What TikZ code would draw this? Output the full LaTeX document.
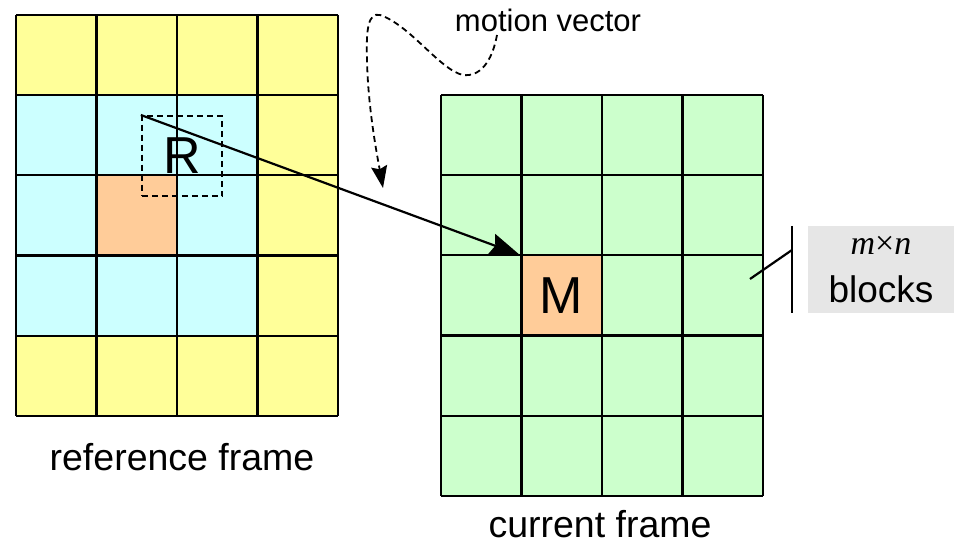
\documentclass[tikz,border=0pt]{standalone}
\usepackage{fontspec}
\setmainfont{Liberation Sans}
\newfontfamily\timesfont{Liberation Serif}
\usetikzlibrary{arrows.meta}
\definecolor{refyellow}{HTML}{FFFF99}
\definecolor{refcyan}{HTML}{CCFFFF}
\definecolor{blkorange}{HTML}{FFCC99}
\definecolor{curgreen}{HTML}{CCFFCC}
\definecolor{boxgray}{HTML}{E6E6E6}
\tikzset{
  cell/.style={minimum width=80.5pt,minimum height=80.2pt,inner sep=0pt},
  big/.style={font=\fontsize{52}{56}\selectfont},
  lbl/.style={font=\fontsize{37.5}{40}\selectfont,inner sep=0pt},
  dash6/.style={dash pattern=on 6pt off 4pt,line width=1.8pt}
}
\begin{document}
\begin{tikzpicture}[>={Stealth[length=30pt,width=22pt,inset=4pt]},x=1pt,y=-1pt,line width=2.2pt]
	\useasboundingbox (0,0) rectangle (954,545);
	% reference frame
	\fill[refyellow] (16,15) rectangle (338,416);
	\fill[refcyan] (16,95) rectangle (257,336);
	\fill[blkorange] (97,175) rectangle (177,256);
	\foreach \i in {0,...,4} \draw (16+\i*80.5,15) -- ++(0,401);
	\foreach \j in {0,...,5} \draw (16,15+\j*80.2) -- ++(322,0);
	\node[lbl] (reflbl) at (182,457) {reference frame};
	% current frame
	\fill[curgreen] (441,95) rectangle (763,496);
	\node[cell,fill=blkorange,big] (M) at (561,296) {M};
	\foreach \i in {0,...,4} \draw (441+\i*80.5,95) -- ++(0,401);
	\foreach \j in {0,...,5} \draw (441,95+\j*80.2) -- ++(322,0);
	\node[lbl] (curlbl) at (600,524) {current frame};
	% search block and motion vector
	\node[cell,draw,dash6,big] (R) at (182,156) {R};
	\draw[->] (R.north west) -- (M.north west);
	\node[font=\fontsize{31}{34}\selectfont,inner sep=0pt] (mv) at (548,20) {motion vector};
	\coordinate (mvstart) at (497,35);
	\coordinate (mvend) at (383,188);
	\draw[dash6,-{Stealth[length=22pt,width=16pt,inset=3pt]}] (mvstart) .. controls (492,62) and (480,77) .. (463,75)
		.. controls (440,70) and (410,25) .. (380,15)
		.. controls (368,12) and (366,30) .. (367,60)
		.. controls (368,110) and (378,160) .. (mvend);
	% block size label
	\node[fill=boxgray,minimum width=146pt,minimum height=87pt,inner sep=0pt,align=center,font=\fontsize{37}{48}\selectfont] (blk) at (881,269.5) {{\timesfont\fontsize{34}{34}\selectfont\itshape m\upshape×\itshape n}\\blocks};
	\coordinate (brtop) at (792,226);
	\coordinate (brbot) at (792,313);
	\coordinate (brmid) at (792,250);
	\coordinate (grid) at (750,279);
	\draw (brtop) -- (brbot);
	\draw (grid) -- (brmid);
\end{tikzpicture}
\end{document}
